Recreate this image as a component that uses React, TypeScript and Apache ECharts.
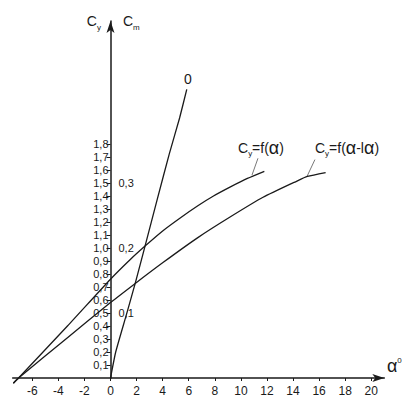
import React, { useEffect, useRef } from "react";
import * as echarts from "echarts";

// ---- data ----
const alphaTicks = [-6, -4, -2, 0, 2, 4, 6, 8, 10, 12, 14, 16, 18, 20];
const cyTicks = [0.1, 0.2, 0.3, 0.4, 0.5, 0.6, 0.7, 0.8, 0.9, 1.0, 1.1, 1.2, 1.3, 1.4, 1.5, 1.6, 1.7, 1.8];
const cmTicks = [0.1, 0.2, 0.3];

// Cy = f(alpha)
const upperAlpha = [-7.45, -7.05, -3.3, 0, 1.5, 2.65, 4.05, 5.4, 6.7, 7.9, 9.2, 10.5, 11.8];
const upperCy = [-0.04, 0, 0.4, 0.76, 0.91, 1.015, 1.135, 1.235, 1.325, 1.4, 1.47, 1.535, 1.59];

// Cy = f(alpha - l alpha)
const lowerAlpha = [-7.45, -7.05, -3.3, 0, 1.8, 4.05, 6.7, 9.2, 11.7, 14.3, 15.1, 16.5];
const lowerCy = [-0.04, 0, 0.31, 0.58, 0.72, 0.89, 1.08, 1.24, 1.39, 1.515, 1.55, 1.58];

// Cm curve ("0")
const cmAlpha = [0, 0.4, 1.2, 1.9, 2.65, 3.6, 4.5, 5.3, 5.85];
const cmValues = [0, 0.04, 0.096, 0.146, 0.203, 0.276, 0.344, 0.4, 0.444];

const FONT = "'Liberation Sans', Arial, sans-serif";
const INK = "#1a1a1a";

const GRID_LEFT = 12.7;
const ORIGIN_X = 110.5;

const pair = (xs: number[], ys: number[]) => xs.map((x, i) => [x, ys[i]]);
const comma = (v: number) => v.toFixed(1).replace(".", ",");

export default function App() {
  const ref = useRef<HTMLDivElement>(null);

  useEffect(() => {
    if (!ref.current) return;
    const chart = echarts.init(ref.current, null, { renderer: "svg" });
    const cyMax = 2.746;
    const yOffset = -(ORIGIN_X - GRID_LEFT);
    const option: any = {
      animation: false,
      backgroundColor: "#ffffff",
      grid: { left: GRID_LEFT, right: 30.7, top: 21, bottom: 42, containLabel: false, outerBoundsMode: "none" },
      xAxis: {
        type: "value",
        min: -7.5,
        max: 21,
        splitLine: { show: false },
        axisLine: {
          show: true,
          onZero: true,
          symbol: ["none", "arrow"],
          symbolSize: [6, 12],
          lineStyle: { color: INK, width: 1.5 },
        },
        axisTick: { show: true, customValues: alphaTicks, length: 3, lineStyle: { color: INK, width: 1 } },
        axisLabel: {
          customValues: alphaTicks,
          formatter: (v: number) => String(v),
          color: INK,
          fontSize: 12,
          fontFamily: FONT,
          margin: 7,
        },
      },
      yAxis: [
        {
          type: "value",
          min: 0,
          max: cyMax,
          position: "left",
          offset: yOffset,
          splitLine: { show: false },
          axisLine: {
            show: true,
            onZero: false,
            symbol: ["none", "arrow"],
            symbolSize: [6, 12],
            lineStyle: { color: INK, width: 1.5 },
          },
          axisTick: { show: true, customValues: cyTicks, length: 4, lineStyle: { color: INK, width: 1 } },
          axisLabel: {
            customValues: cyTicks,
            formatter: (v: number) => comma(v),
            color: INK,
            fontSize: 11,
            fontFamily: FONT,
            margin: 2,
          },
        },
        {
          type: "value",
          min: 0,
          max: cyMax / 5,
          position: "left",
          offset: yOffset,
          splitLine: { show: false },
          axisLine: { show: false, onZero: false },
          axisTick: { show: false },
          axisLabel: {
            inside: true,
            customValues: cmTicks,
            formatter: (v: number) => comma(v),
            color: INK,
            fontSize: 11,
            fontFamily: FONT,
            margin: 8,
          },
        },
      ],
      series: [
        {
          type: "line",
          data: pair(upperAlpha, upperCy),
          smooth: 0.2,
          symbol: "none",
          clip: false,
          lineStyle: { color: INK, width: 1.3 },
        },
        {
          type: "line",
          data: pair(lowerAlpha, lowerCy),
          smooth: 0.2,
          symbol: "none",
          clip: false,
          lineStyle: { color: INK, width: 1.3 },
        },
        {
          type: "line",
          yAxisIndex: 1,
          data: pair(cmAlpha, cmValues),
          smooth: 0.15,
          symbol: "none",
          clip: false,
          lineStyle: { color: INK, width: 1.3 },
        },
      ],
    };
    chart.setOption(option);

    const p = (a: number, c: number) =>
      chart.convertToPixel({ xAxisIndex: 0, yAxisIndex: 0 }, [a, c]) as number[];

    const subRich = (big: number) => ({
      c: { fontSize: big, fontFamily: FONT, color: INK, lineHeight: 20 },
      s: { fontSize: 8, fontFamily: FONT, color: INK, lineHeight: 20, verticalAlign: "bottom" },
      t: { fontSize: 14, fontFamily: FONT, color: INK, lineHeight: 20 },
      a: { fontSize: 18, fontFamily: FONT, color: INK, lineHeight: 20 },
      u: { fontSize: 8, fontFamily: FONT, color: INK, lineHeight: 20, verticalAlign: "top" },
    });

    const text = (pos: number[], txt: string, align: string, big = 14) => ({
      type: "text",
      x: pos[0],
      y: pos[1],
      style: {
        text: txt,
        align,
        verticalAlign: "middle",
        rich: subRich(big),
        fill: INK,
        font: `14px ${FONT}`,
      },
    });
    const leader = (a: number[], b: number[]) => ({
      type: "line",
      shape: { x1: a[0], y1: a[1], x2: b[0], y2: b[1] },
      style: { stroke: "#555", lineWidth: 0.8 },
    });

    chart.setOption({
      graphic: [
        text(p(-0.73, 2.746), "{c|C}{s|y}", "right"),
        text(p(0.96, 2.746), "{c|C}{s|m}", "left"),
        text(p(21.2, 0.09), "{a|α}{u|0}", "left"),
        text(p(5.94, 2.3), "{t|0}", "center"),
        text(p(11.54, 1.77), "{c|C}{s|y}{t|=f(}{a|α}{t|)}", "center"),
        text(p(18.14, 1.77), "{c|C}{s|y}{t|=f(}{a|α}{t|-l}{a|α}{t|)}", "center"),
        leader(p(11.31, 1.69), p(10.85, 1.56)),
        leader(p(15.68, 1.68), p(15.07, 1.55)),
      ],
    });

    return () => chart.dispose();
  }, []);

  return (
    <div
      ref={ref}
      style={{ position: "fixed", left: 0, top: 0, width: 415, height: 420, background: "#fff" }}
    />
  );
}
